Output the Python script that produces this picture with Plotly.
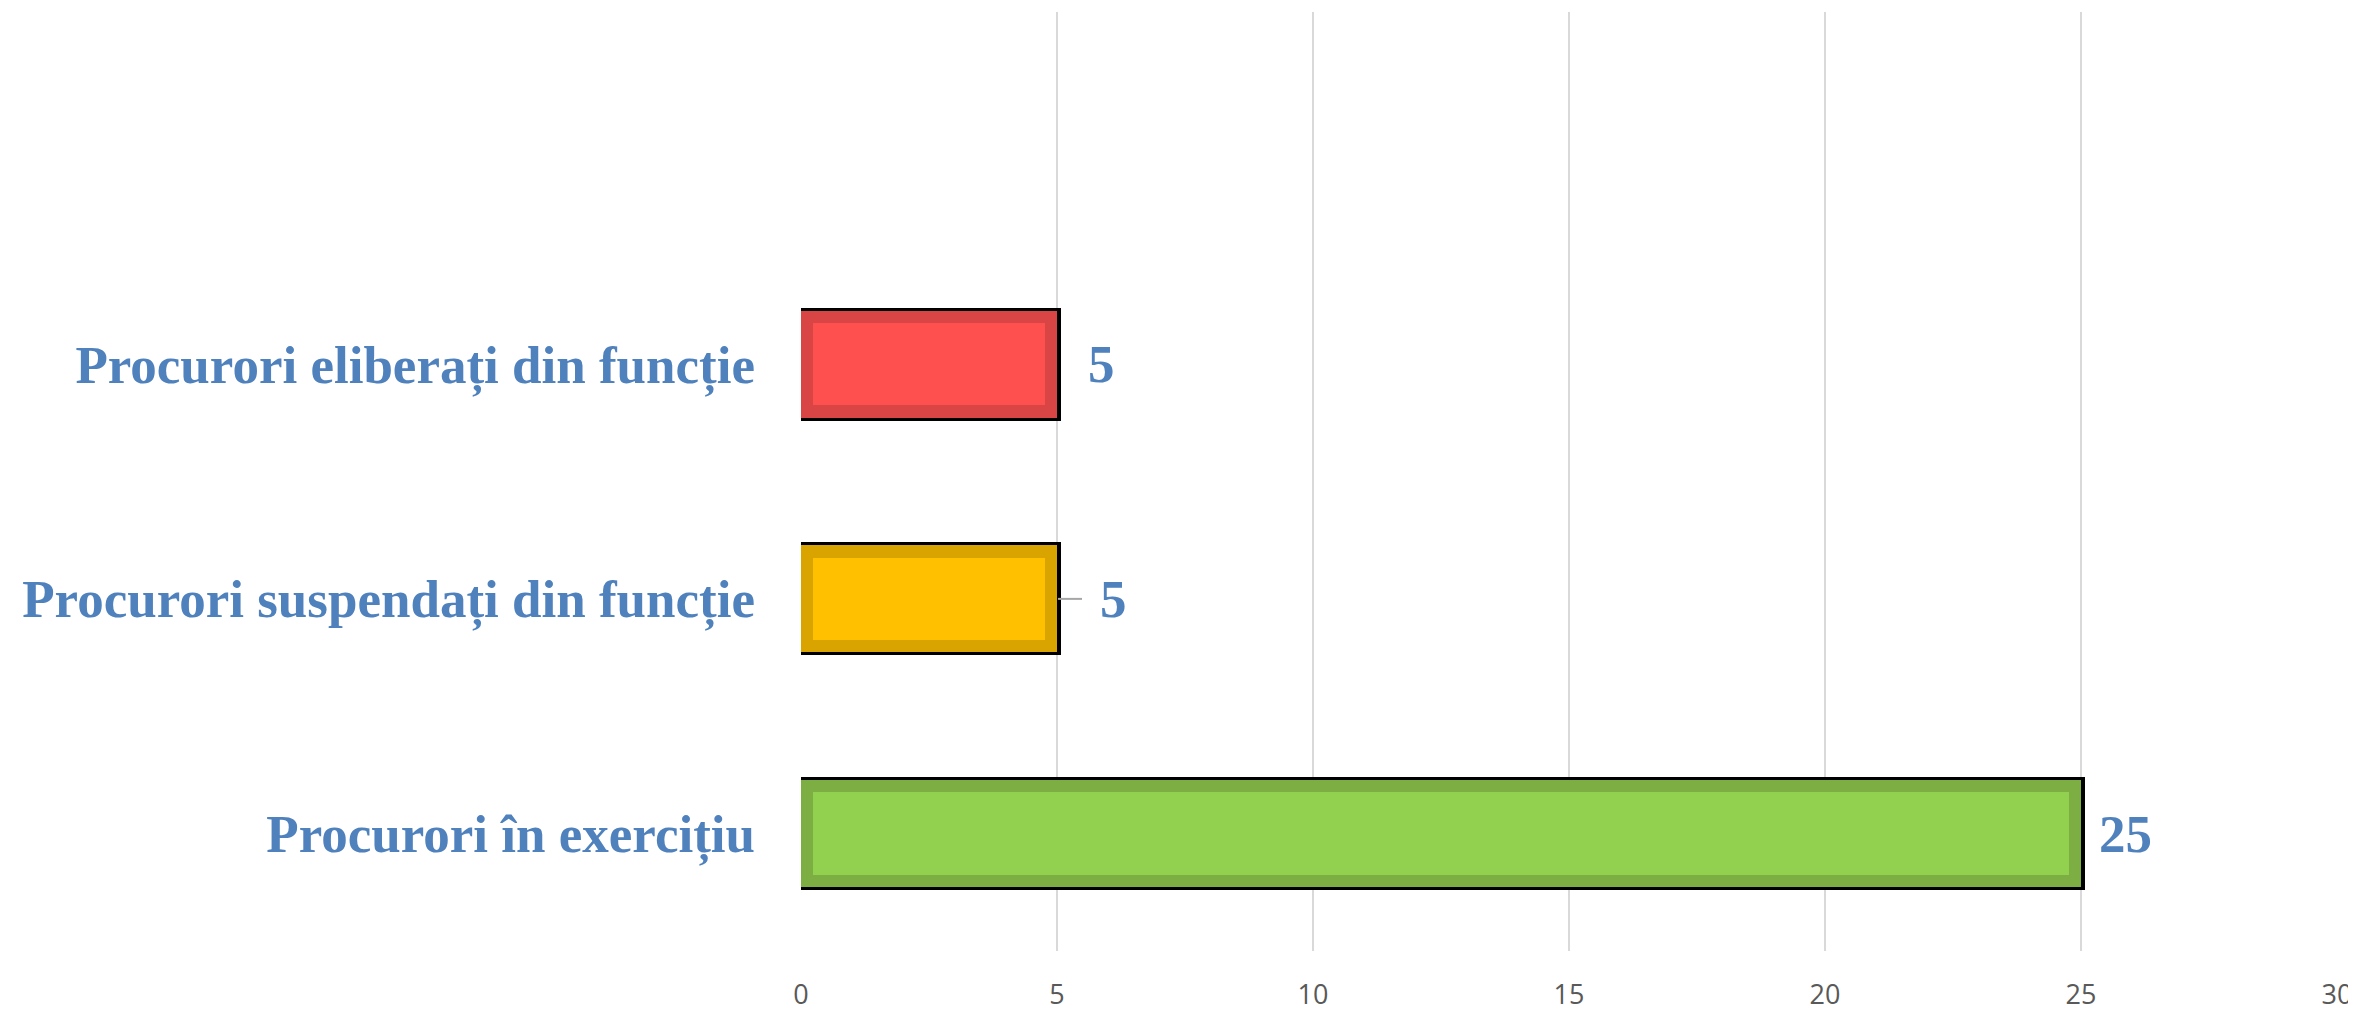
import plotly.graph_objects as go

categories = ["Procurori în exercițiu", "Procurori suspendați din funcție", "Procurori eliberați din funcție"]
values = [25, 5, 5]
light_colors = ["#92D050", "#FFC000", "#FF5050"]
dark_colors = ["#7DAE44", "#D9A400", "#D94444"]
x_ticks = [0, 5, 10, 15, 20, 25, 30]
label_shift = [16, 41, 29]

ypos = list(range(len(categories)))
px_per_unit = 1536 / 30.0
ring = 12 / px_per_unit
edge = 4 / px_per_unit

fig = go.Figure()
# black outline layer
fig.add_trace(go.Bar(
    y=ypos, x=[v + edge for v in values], base=0, orientation="h",
    width=0.482, marker=dict(color="#000000", line=dict(width=0)),
    hoverinfo="skip", showlegend=False))
# darker ring layer
fig.add_trace(go.Bar(
    y=ypos, x=values, base=0, orientation="h",
    width=0.456, marker=dict(color=dark_colors, line=dict(width=0)),
    showlegend=False))
# light inner fill
fig.add_trace(go.Bar(
    y=ypos, x=[v - 2 * ring for v in values], base=ring, orientation="h",
    width=0.352, marker=dict(color=light_colors, line=dict(width=0)),
    hoverinfo="skip", showlegend=False))

for i, v in enumerate(values):
    fig.add_annotation(
        x=v, y=ypos[i], text=str(v), showarrow=False, xanchor="left", yanchor="middle",
        xshift=label_shift[i],
        font=dict(family="Liberation Serif", size=53, color="#4F81BD", weight="bold"))

# leader line for the middle label
fig.add_shape(type="line", xref="x", yref="y", xsizemode="pixel",
              xanchor=values[1], x0=1, x1=25, y0=ypos[1], y1=ypos[1],
              line=dict(color="#A6A6A6", width=2))

fig.update_layout(
    width=2348, height=1001,
    margin=dict(l=793, r=19, t=4, b=58, autoexpand=False),
    paper_bgcolor="white", plot_bgcolor="white",
    barmode="overlay", bargap=0,
    xaxis=dict(range=[0, 30], tickvals=x_ticks, showgrid=True, gridcolor="#D9D9D9",
               gridwidth=2, zeroline=False, showline=False, ticks="",
               ticklabelstandoff=25, automargin=False,
               tickfont=dict(family="Open Sans", size=27, color="#595959")),
    yaxis=dict(range=[-0.5, 3.5], tickvals=ypos, ticktext=categories, showgrid=False,
               zeroline=False, showline=False, ticks="", ticklabelstandoff=45, automargin=False,
               tickfont=dict(family="Liberation Serif", size=53, color="#4F81BD", weight="bold")),
)

fig.write_html("out.html")
